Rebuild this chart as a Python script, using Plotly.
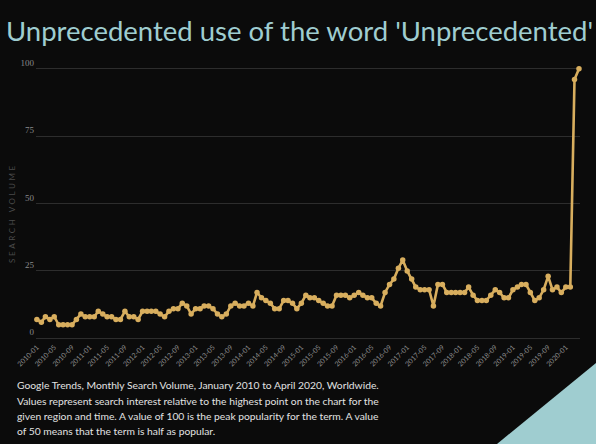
import plotly.graph_objects as go
import pandas as pd

# Data: monthly search volume, Jan 2010 .. Apr 2020
months = pd.date_range("2010-01-01", "2020-04-01", freq="MS").strftime("%Y-%m-%d").tolist()
values = [7, 6, 8, 7, 8, 5, 5, 5, 5, 7, 9, 8,
          8, 8, 10, 9, 8, 8, 7, 7, 10, 8, 8, 7,
          10, 10, 10, 10, 9, 8, 10, 11, 11, 13, 12, 9,
          11, 11, 12, 12, 11, 9, 8, 9, 12, 13, 12, 12,
          13, 12, 17, 15, 14, 13, 11, 11, 14, 14, 13, 11,
          13, 16, 15, 15, 14, 13, 12, 12, 16, 16, 16, 15,
          16, 17, 16, 15, 15, 13, 12, 17, 20, 22, 26, 29,
          25, 22, 19, 18, 18, 18, 12, 20, 20, 17, 17, 17,
          17, 17, 19, 16, 14, 14, 14, 16, 18, 17, 15, 15,
          18, 19, 20, 20, 17, 14, 15, 18, 23, 18, 19, 17,
          19, 19, 96, 100]
tick_vals = pd.date_range("2010-01-01", "2020-01-01", freq="4MS").strftime("%Y-%m-%d").tolist()
tick_text = pd.date_range("2010-01-01", "2020-01-01", freq="4MS").strftime("%Y-%m").tolist()
y_ticks = [0, 25, 50, 75, 100]

title = "Unprecedented use of the word 'Unprecedented'"
footer = [
    "Google Trends, Monthly Search Volume, January 2010 to April 2020, Worldwide.",
    "Values represent search interest relative to the highest point on the chart for the",
    "given region and time. A value of 100 is the peak popularity for the term. A value",
    "of 50 means that the term is half as popular.",
]

W, H = 596, 444
ML, MR, MT, MB = 36, 16, 66, 103
PW, PH = W - ML - MR, H - MT - MB

BG = "#0b0b0b"
GOLD = "#d8ae5e"
TEAL = "#9fcdd0"

fig = go.Figure()
fig.add_trace(go.Scatter(
    x=months, y=values, mode="lines+markers",
    line=dict(color=GOLD, width=2.6),
    marker=dict(color=GOLD, size=5.5),
    cliponaxis=False, hoverinfo="skip", showlegend=False,
))

def px_x(px):
    return (px - ML) / PW

def px_y(py):
    return (H - MB - py) / PH

annotations = [
    dict(text=title, x=px_x(W / 2 + 1), y=px_y(30), xref="paper", yref="paper",
         xanchor="center", yanchor="middle",
         showarrow=False, font=dict(family="Lato", size=27.5, color=TEAL)),
    dict(text='<span style="letter-spacing:2.6px">SEARCH VOLUME</span>',
         x=px_x(12), y=px_y(213), xref="paper", yref="paper", textangle=-90,
         xanchor="center", yanchor="middle",
         showarrow=False, font=dict(family="Lato", size=8, color="#4a4a4a")),
]
line_y = [385, 400.5, 416, 431]
for t, ly in zip(footer, line_y):
    annotations.append(dict(text=t, x=px_x(15), y=px_y(ly), xref="paper", yref="paper",
                            xanchor="left", yanchor="middle", showarrow=False,
                            font=dict(family="Lato", size=10.3, color="#e2e2e2")))

fig.update_layout(
    width=W, height=H,
    margin=dict(l=ML, r=MR, t=MT, b=MB),
    paper_bgcolor=BG, plot_bgcolor=BG,
    annotations=annotations,
    shapes=[dict(type="path", xref="paper", yref="paper",
                 path=f"M {px_x(497)} {px_y(444)} L {px_x(596)} {px_y(363)} L {px_x(596)} {px_y(444)} Z",
                 fillcolor=TEAL, line=dict(width=0), layer="below")],
    xaxis=dict(
        type="date", range=["2009-12-26", "2020-04-08"],
        tickvals=tick_vals, ticktext=tick_text, tickangle=-45,
        tickfont=dict(family="Lato", size=7, color="#8a8a8a"),
        showgrid=False, zeroline=False, showline=False, ticks="",
    ),
    yaxis=dict(
        range=[-1, 101], tickvals=y_ticks, ticks="",
        tickfont=dict(family="Liberation Serif", size=9, color="#8a8a8a"),
        gridcolor="rgba(255,255,255,0.14)", gridwidth=1,
        zeroline=False, showline=False,
        ticklabelstandoff=1, ticklabelshift=-6,
    ),
)

fig.write_html("out.html")
